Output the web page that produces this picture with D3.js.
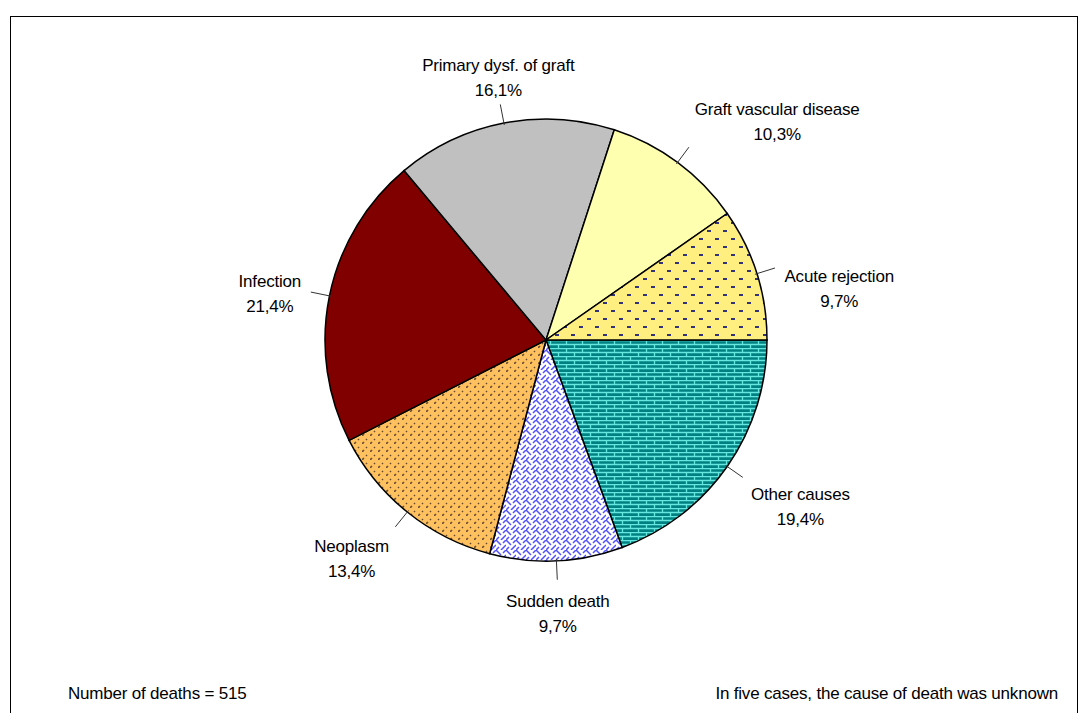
<!DOCTYPE html>
<html><head><meta charset="utf-8">
<script src="https://cdn.jsdelivr.net/npm/d3@7"></script>
<style>body{margin:0;background:#fff}text{font-family:"Liberation Sans",Arial,sans-serif;font-size:17px;letter-spacing:-0.2px}</style>
</head><body>
<script>
// Causes of death, clockwise from 3 o'clock
var causes = ["Other causes", "Sudden death", "Neoplasm", "Infection", "Primary dysf. of graft", "Graft vascular disease", "Acute rejection"];
var shares = [19.4, 9.7, 13.4, 21.4, 16.1, 10.3, 9.7];
var fills = ["url(#brick)", "url(#weave)", "url(#dash)", "#800000", "#C0C0C0", "#FFFFB0", "url(#dots)"];

var svgWidth = 1088, svgHeight = 713;
var cx = 546, cy = 340, radius = 221;

var svg = d3.select("body").append("svg")
  .attr("width", svgWidth).attr("height", svgHeight);

svg.append("rect").attr("x", 10.5).attr("y", 16.5).attr("width", 1067).attr("height", 710)
  .attr("fill", "none").attr("stroke", "#000");

// patterns
var defs = svg.append("defs");
var p = defs.append("pattern").attr("id", "brick").attr("patternUnits", "userSpaceOnUse").attr("width", 16).attr("height", 8);
p.append("rect").attr("width", 16).attr("height", 8).attr("fill", "#008080");
p.append("path").attr("d", "M0,0.5H16M0,4.5H16M4.5,0V4M12.5,4V8").attr("stroke", "#66E8E0").attr("stroke-width", 1.3);

p = defs.append("pattern").attr("id", "dots").attr("patternUnits", "userSpaceOnUse").attr("width", 16).attr("height", 16);
p.append("rect").attr("width", 16).attr("height", 16).attr("fill", "#FFEE80");
p.append("rect").attr("x", 1).attr("y", 2).attr("width", 4).attr("height", 2).attr("fill", "#333377");
p.append("rect").attr("x", 9).attr("y", 10).attr("width", 4).attr("height", 2).attr("fill", "#333377");

p = defs.append("pattern").attr("id", "dash").attr("patternUnits", "userSpaceOnUse").attr("width", 8).attr("height", 8);
p.append("rect").attr("width", 8).attr("height", 8).attr("fill", "#FFC060");
p.append("path").attr("d", "M0,8L2,6M4,4L5,3").attr("stroke", "#6a5030").attr("stroke-width", 1.6);

p = defs.append("pattern").attr("id", "weave").attr("patternUnits", "userSpaceOnUse").attr("width", 10).attr("height", 10);
p.append("rect").attr("width", 10).attr("height", 10).attr("fill", "#fff");
p.append("path").attr("d", "M0,0L5,5M5,10L10,5M10,0L7,3M0,10L3,7").attr("stroke", "#5050ff").attr("stroke-width", 1.5);

var pie = d3.pie().sort(null).value(function(d) { return d; })
  .startAngle(Math.PI / 2).endAngle(Math.PI / 2 + 2 * Math.PI);
var arcs = pie(shares);
var arc = d3.arc().innerRadius(0).outerRadius(radius);

var g = svg.append("g").attr("transform", "translate(" + cx + "," + cy + ")");
g.selectAll("path.slice").data(arcs).enter().append("path")
  .attr("class", "slice").attr("d", arc)
  .attr("fill", function(d, i) { return fills[i]; })
  .attr("stroke", "#000").attr("stroke-width", 1.5);

var fmt = function(v) { return v.toFixed(1).replace(".", ",") + "%"; };
arcs.forEach(function(d, i) {
  var a = (d.startAngle + d.endAngle) / 2;
  var sx = Math.sin(a), cyy = -Math.cos(a);
  g.append("line").attr("x1", sx * (radius - 2)).attr("y1", cyy * (radius - 2))
    .attr("x2", sx * 240).attr("y2", cyy * 240).attr("stroke", "#333");
  var x = sx * 250, y = cyy * 250;
  var first;
  if (cyy < -0.6) first = y - 30;
  else if (sx < 0 && Math.abs(cyy) < 0.5) first = y - 9;
  else first = y + 11;
  var t = g.append("text").attr("text-anchor", "middle").attr("y", first + 6);
  var t1 = t.append("tspan").text(causes[i]);
  var w = t1.node().getComputedTextLength();
  var bx = Math.abs(sx) < 0.3 ? x : (sx > 0 ? x + w / 2 : x - w / 2);
  t1.attr("x", bx);
  t.append("tspan").attr("x", bx).attr("dy", 25).text(fmt(shares[i]));
});

svg.append("text").attr("x", 68).attr("y", 699).text("Number of deaths = 515");
svg.append("text").attr("x", 1058).attr("y", 699).attr("text-anchor", "end").text("In five cases, the cause of death was unknown");
</script>
</body></html>
